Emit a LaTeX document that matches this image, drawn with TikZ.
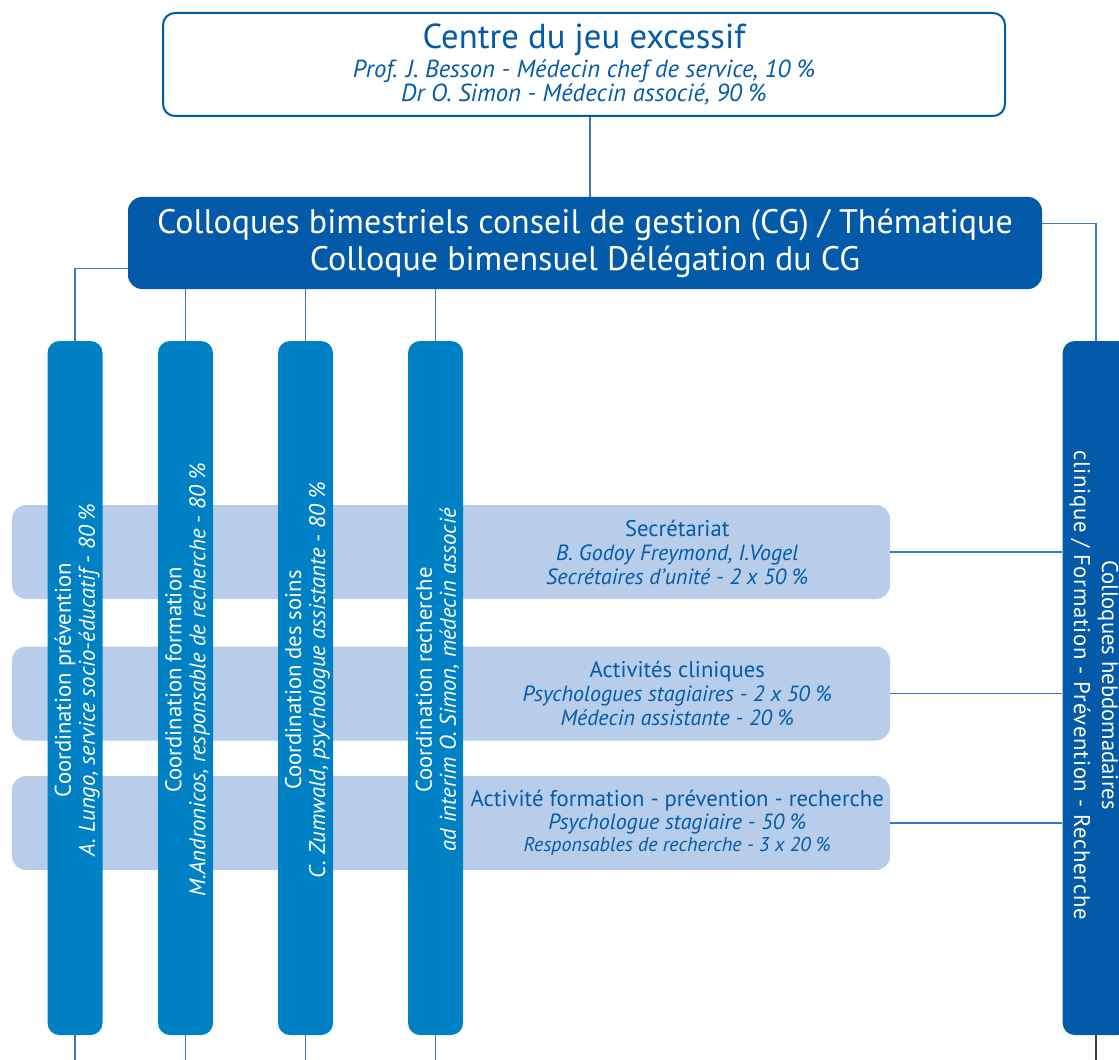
\documentclass[tikz,border=0pt]{standalone}
\usepackage{fontspec}
\setmainfont{PT Sans}
\usepackage{xcolor}
\usepackage{tikz}
\usetikzlibrary{calc}
\definecolor{CJEBlue}{RGB}{3, 90, 168}
\definecolor{CJECol}{RGB}{0, 129, 198}
\definecolor{CJEBand}{RGB}{183, 205, 233}
\definecolor{CJELine}{RGB}{58, 120, 184}

\begin{document}
\begin{tikzpicture}[x=0.75pt, y=-0.75pt,
        cjebox/.style={draw=CJEBlue, line width=1.5pt, fill=white, rounded corners=9pt, minimum width=631.5pt, minimum height=77.25pt, align=center, text=CJEBlue, font=\fontsize{18.5}{18}\selectfont\itshape},
        cgbox/.style={fill=CJEBlue, rounded corners=10.5pt, minimum width=685.5pt, minimum height=69pt, align=center, text=white, font=\fontsize{25.5}{27.75}\selectfont},
        coordbox/.style={fill=CJECol, rounded corners=9pt, minimum width=41.25pt, minimum height=520.5pt},
        coordtxt/.style={rotate=90, align=center, text=white, font=\fontsize{17}{18}\selectfont},
        hebdobox/.style={fill=CJEBlue, rounded corners=9pt, minimum width=50pt, minimum height=520.5pt},
        hebdotxt/.style={rotate=-90, align=center, text=white, font=\fontsize{17}{21}\selectfont},
        band/.style={fill=CJEBand, rounded corners=10.5pt, minimum width=658.5pt, minimum height=70.5pt},
        bandtext/.style={align=center, text=CJEBlue, font=\fontsize{17}{18}\selectfont},
        link/.style={CJELine, line width=1.1pt}]
        \useasboundingbox (0,0) rectangle (1119,1059);
        \clip (0,0) rectangle (1119,1059);
        \coordinate (bottom) at (0,1070);

        % Top: centre
        \node[cjebox] (cje) at (584,64.5) {{\upshape\fontsize{26}{26}\selectfont Centre du jeu excessif}\\[1.5pt]
            Prof. J. Besson - Médecin chef de service, 10 \%\\
            Dr O. Simon - Médecin associé, 90 \%};
        \coordinate (cjeout) at ($(cje.south)+(6,0)$);

        % Conseil de gestion
        \node[cgbox] (cg) at (585,243) {Colloques bimestriels conseil de gestion (CG) / Thématique\\Colloque bimensuel Délégation du CG};

        % Activity bands
        \node[band] (sec) at (451,552) {};
        \node[band] (clin) at (451,693.5) {};
        \node[band] (act) at (451,823) {};

        % Coordination columns
        \node[coordbox] (prev) at (75,688) {};
        \node[coordbox] (form) at (185.5,688) {};
        \node[coordbox] (soins) at (305.5,688) {};
        \node[coordbox] (rech) at (435.5,688) {};
        \node[coordtxt] (prevtxt) at ($(prev.center)+(2,-8)$) {Coordination prévention\\{\itshape A. Lungo, service socio-éducatif - 80 \%}};
        \node[coordtxt] (formtxt) at ($(form.center)+(2,-8)$) {Coordination formation\\{\itshape M.Andronicos, responsable de recherche - 80 \%}};
        \node[coordtxt] (soinstxt) at ($(soins.center)+(2,-8)$) {Coordination des soins\\{\itshape C. Zumwald, psychologue assistante - 80 \%}};
        \node[coordtxt] (rechtxt) at ($(rech.center)+(2,-8)$) {Coordination recherche\\{\itshape ad interim O. Simon, médecin associé}};

        % Colloques hebdomadaires
        \node[hebdobox] (hebdo) at (1096,688) {};
        \node[hebdotxt] (hebdotext) at ($(hebdo.center)+(-2,-3)$) {Colloques hebdomadaires\\{\addfontfeatures{LetterSpace=3.4}clinique / Formation - Prévention - Recherche}};

        % Band texts
        \node[bandtext] (sectxt) at ($(sec.east)+(-213,0)$) {Secrétariat\\{\fontsize{16.5}{18}\selectfont\itshape B. Godoy Freymond, I.Vogel}\\{\fontsize{16.5}{18}\selectfont\itshape Secrétaires d’unité - 2 x 50 \%}};
        \node[bandtext] (clintxt) at ($(clin.east)+(-213,0)$) {Activités cliniques\\{\fontsize{16.5}{18}\selectfont\itshape Psychologues stagiaires - 2 x 50 \%}\\{\fontsize{16.5}{18}\selectfont\itshape Médecin assistante - 20 \%}};
        \node[bandtext] (acttxt) at ($(act.east)+(-213,0)$) {Activité formation - prévention - recherche\\[-1pt]{\fontsize{16.5}{17}\selectfont\itshape Psychologue stagiaire - 50 \%}\\[-1.5pt]{\fontsize{15}{16}\selectfont\itshape Responsables de recherche - 3 x 20 \%}};

        % Connectors
        \draw[link] (cjeout) -- (cjeout |- cg.north);
        \draw[link] ($(cg.south west)+(0,-21)$) -| (prev.north);
        \draw[link] (form.north) -- (form.north |- cg.south);
        \draw[link] (soins.north) -- (soins.north |- cg.south);
        \draw[link] (rech.north) -- (rech.north |- cg.south);
        \draw[link] ($(cg.north east)+(0,27)$) -| (hebdo.north);
        \draw[link] (sec.east) -- (sec.east -| hebdo.west);
        \draw[link] (clin.east) -- (clin.east -| hebdo.west);
        \draw[link] (act.east) -- (act.east -| hebdo.west);
        \foreach \c in {prev, form, soins, rech}
            \draw[link] (\c.south) -- (\c.south |- bottom);
        \draw[link, black!75] (hebdo.south) -- (hebdo.south |- bottom);
    \end{tikzpicture}
\end{document}
